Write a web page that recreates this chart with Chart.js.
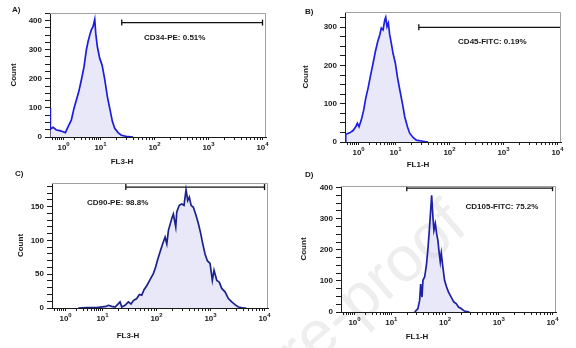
<!DOCTYPE html>
<html>
<head>
<meta charset="utf-8">
<script src="https://cdn.jsdelivr.net/npm/chart.js@4.4.1/dist/chart.umd.min.js"></script>
<style>
  body { margin: 0; background: #fff; }
  #wrap { position: relative; width: 576px; height: 348px; overflow: hidden; font-family: "Liberation Sans", Arial, sans-serif; }
  canvas { position: absolute; }
  .tag { position: absolute; font-weight: bold; font-size: 8px; line-height: 10px; color: #1a1a1a; }
  #mark { position: absolute; left: 102px; top: 495px; font-size: 64px; line-height: 66px; color: #eeeeee;
          white-space: nowrap; transform-origin: 0 100%; transform: rotate(-40.7deg); }
</style>
</head>
<body>
<div id="wrap">
  <div id="mark">Journal Pre-proof</div>
  <canvas id="cA" width="288" height="174" style="left:0;top:0"></canvas>
  <canvas id="cB" width="288" height="174" style="left:288px;top:0"></canvas>
  <canvas id="cC" width="288" height="174" style="left:0;top:174px"></canvas>
  <canvas id="cD" width="288" height="174" style="left:288px;top:174px"></canvas>
  <div class="tag" style="left:12px;top:5px">A)</div>
  <div class="tag" style="left:305px;top:7px">B)</div>
  <div class="tag" style="left:15px;top:169px">C)</div>
  <div class="tag" style="left:305px;top:170px">D)</div>
</div>
<script>
// shared fluorescence axis (log display, first decade compressed like the cytometer software)
const X_MIN = 0.43;
const X_MAX = 11600;
const decades = [0, 1, 2, 3, 4];

// A) CD34-PE, FL3-H
const cd34X = [0.43, 0.44, 0.52, 0.64, 0.79, 0.97, 1.12, 1.32, 1.62, 1.92, 2.22, 2.58, 3.03, 3.58, 4.13, 4.60,
  5.11, 5.64, 6.27, 6.97, 7.42, 8.20, 9.52, 10.7, 12.0, 13.4, 15.0, 16.6, 18.3, 21.1, 24.3, 32.3, 40];
const cd34Count = [100, 27, 33, 24, 22, 18, 15, 35, 58, 99, 127, 156, 196, 242, 299, 328,
  350, 368, 379, 404, 356, 310, 270, 247, 196, 138, 93, 53, 30, 15, 6, 1, 0];

// B) CD45-FITC, FL1-H
const cd45X = [0.44, 0.45, 0.47, 0.58, 0.71, 0.84, 0.93, 1.03, 1.19, 1.38, 1.56, 1.81, 2.08, 2.47, 2.84, 3.30,
  3.74, 4.13, 4.59, 5.11, 5.43, 5.89, 6.38, 6.97, 7.69, 8.55, 9.88, 10.8, 12.0, 13.4, 14.8, 16.6, 18.3, 21.1,
  24.3, 32.3, 40];
const cd45Count = [0, 20, 21, 24, 30, 40, 49, 40, 58, 84, 114, 141, 171, 206, 236, 263,
  280, 298, 293, 319, 326, 302, 311, 280, 258, 232, 206, 171, 136, 101, 66, 40, 23, 12,
  5, 2, 0];

// C) CD90-PE, FL3-H
const cd90X = [2.2, 3.74, 6.97, 11.6, 12.8, 14.8, 17.1, 21.1, 22.7, 26.1, 30.1, 33.7, 37.2, 43.0, 48.1, 53.2,
  58.7, 65.9, 75.9, 87.3, 96.6, 103.5, 116, 130, 144, 155, 166, 191, 205, 227, 237, 264, 293, 323, 352, 378,
  405, 436, 481, 540, 595, 659, 718, 791, 873, 980, 1081, 1161, 1303, 1456, 1613, 1857, 2140, 2472, 2846,
  3277, 4054, 4600];
const cd90Count = [0, 0.5, 0.5, 2.5, 4, 2.5, 1.5, 9, 1.5, 4, 9, 6, 11, 14, 20, 19,
  27, 33, 42, 51, 61, 70, 83, 95, 105, 95, 115, 132, 139, 120, 142, 152, 154, 152, 175, 159,
  164, 152, 149, 137, 125, 110, 95, 80, 70, 66, 41, 56, 41, 38, 29, 24, 14, 9, 5,
  1.5, 0, 0];

// D) CD105-FITC, FL1-H
const cd105X = [27.2, 31.3, 33.7, 35.2, 37.2, 38.8, 41.8, 44.9, 48.1, 51, 54, 56.3, 59.5, 62.1, 65.9, 69.7,
  73.6, 76.8, 81.5, 85.1, 91, 97.9, 107, 116, 130, 146, 161, 178, 199, 230, 284];
const cd105Count = [0, 11, 38, 90, 48, 102, 113, 150, 204, 263, 327, 375, 305, 263, 284, 252,
  230, 198, 161, 188, 145, 102, 80, 64, 48, 32, 27, 16, 11, 3, 0];

// positive gates and their labels
const gateStart = [24.7, 27, 27, 19.4];
const gateEnd = [10000, X_MAX, 10000, 10000];
const gateLevel = [393, 300, 179, 398];
const gateNotes = ['CD34-PE: 0.51%', 'CD45-FITC: 0.19%', 'CD90-PE: 98.8%', 'CD105-FITC: 75.2%'];
const noteX = [64, 144, 3.8, 240];
const noteY = [340, 263, 155, 338];

// y axes
const yMaxes = [426, 340, 185, 405];
const yMajors = [100, 100, 50, 100];
const yMinors = [25, 25, 10, 25];
const xTitles = ['FL3-H', 'FL1-H', 'FL3-H', 'FL1-H'];

function biexU(v) {
    const L = Math.log10(v);
    return L >= 1 ? L : 1 - (1 - L) * 0.685;
}
function biexInv(u) {
    const L = u >= 1 ? u : 1 - (1 - u) / 0.685;
    return Math.pow(10, L);
}

class BiexScale extends Chart.LogarithmicScale {
    buildTicks() {
        const ticks = [];
        for (let e = -1; e <= 4; e++) {
            for (let m = 1; m <= 9; m++) {
                const v = m * Math.pow(10, e);
                if (v >= this.min && v <= this.max) ticks.push({ value: v });
            }
        }
        return ticks;
    }
    getPixelForValue(value) {
        if (value === undefined || value === null || isNaN(value)) return NaN;
        const u0 = biexU(this.min), u1 = biexU(this.max);
        return this.getPixelForDecimal((biexU(Math.max(value, this.min)) - u0) / (u1 - u0));
    }
    getValueForPixel(pixel) {
        const u0 = biexU(this.min), u1 = biexU(this.max);
        return biexInv(u0 + this.getDecimalForPixel(pixel) * (u1 - u0));
    }
}
BiexScale.id = 'biex';
BiexScale.defaults = {};
Chart.register(BiexScale);

const FONT = '"Liberation Sans", Arial, sans-serif';
const INK = '#1a1a1a';

// frame, decade labels, x title and gate note
const flowText = {
    id: 'flowText',
    afterDraw(chart, args, opts) {
        const { ctx, chartArea: a } = chart;
        const x = chart.scales.x, y = chart.scales.y;
        ctx.save();
        ctx.strokeStyle = '#a0a0a0';
        ctx.lineWidth = 1;
        ctx.beginPath();
        ctx.moveTo(a.left, a.top + 0.5);
        ctx.lineTo(a.right - 0.5, a.top + 0.5);
        ctx.lineTo(a.right - 0.5, a.bottom);
        ctx.stroke();

        ctx.fillStyle = INK;
        ctx.textAlign = 'left';
        ctx.textBaseline = 'alphabetic';
        decades.forEach(function (d) {
            const px = x.getPixelForValue(Math.pow(10, d));
            ctx.font = 'bold 8px ' + FONT;
            const w1 = ctx.measureText('10').width;
            ctx.font = 'bold 6px ' + FONT;
            const w2 = ctx.measureText(String(d)).width;
            const x0 = px - (w1 + w2) / 2;
            ctx.font = 'bold 8px ' + FONT;
            ctx.fillText('10', x0, a.bottom + 13);
            ctx.font = 'bold 6px ' + FONT;
            ctx.fillText(String(d), x0 + w1, a.bottom + 9);
        });

        ctx.font = 'bold 8px ' + FONT;
        ctx.textAlign = 'center';
        ctx.textBaseline = 'middle';
        ctx.fillText(opts.title, opts.titleX, opts.titleY);

        ctx.textAlign = 'left';
        ctx.fillText(opts.note, x.getPixelForValue(opts.noteAt[0]), y.getPixelForValue(opts.noteAt[1]));
        ctx.restore();
    }
};

const panels = [
    { id: 'cA', xs: cd34X, ys: cd34Count, line: '#1c1cdc', left: 50, right: 266, top: 13, bottom: 137, countX: 14, titleX: 122, titleY: 162 },
    { id: 'cB', xs: cd45X, ys: cd45Count, line: '#1f1fe0', left: 57, right: 273, top: 12, bottom: 142, countX: 18, titleX: 130, titleY: 165 },
    { id: 'cC', xs: cd90X, ys: cd90Count, line: '#1b2288', left: 52, right: 268, top: 9, bottom: 134, countX: 21, titleX: 128, titleY: 162 },
    { id: 'cD', xs: cd105X, ys: cd105Count, line: '#1f1fa8', left: 53, right: 268, top: 12, bottom: 138, countX: 16, titleX: 129, titleY: 163 }
];

panels.forEach(function (p, i) {
    const yTicks = [];
    for (let v = 0; v <= yMaxes[i]; v += yMinors[i]) yTicks.push({ value: v });

    new Chart(document.getElementById(p.id), {
        type: 'line',
        data: {
            datasets: [{
                data: p.xs.map((x, k) => ({ x: x, y: p.ys[k] })),
                borderColor: p.line,
                borderWidth: 1.7,
                backgroundColor: 'rgba(200, 200, 238, 0.42)',
                fill: 'origin',
                pointRadius: 0,
                tension: 0
            }, {
                data: [{ x: gateStart[i], y: gateLevel[i] }, { x: gateEnd[i], y: gateLevel[i] }],
                borderColor: '#111',
                borderWidth: 1.2,
                pointStyle: 'line',
                rotation: 90,
                pointRadius: 3,
                pointBorderColor: '#111',
                pointBorderWidth: 1.3,
                fill: false
            }]
        },
        options: {
            responsive: false,
            animation: false,
            devicePixelRatio: 1,
            layout: { padding: { left: 0, top: p.top, right: 288 - p.right, bottom: 0 } },
            plugins: {
                legend: { display: false },
                tooltip: { enabled: false },
                flowText: { title: xTitles[i], titleX: p.titleX, titleY: p.titleY, note: gateNotes[i], noteAt: [noteX[i], noteY[i]] }
            },
            scales: {
                x: {
                    type: 'biex',
                    min: X_MIN,
                    max: X_MAX,
                    ticks: { display: false, autoSkip: false },
                    grid: { drawOnChartArea: false, tickLength: 3, color: INK },
                    border: { color: INK, width: 1 },
                    afterFit: s => { s.height = 174 - p.bottom; }
                },
                y: {
                    min: 0,
                    max: yMaxes[i],
                    afterBuildTicks: s => { s.ticks = yTicks.slice(); },
                    ticks: {
                        autoSkip: false,
                        padding: 3,
                        color: INK,
                        font: { family: FONT, size: 8, weight: 'bold' },
                        callback: v => (v % yMajors[i] === 0 ? v : '')
                    },
                    grid: { drawOnChartArea: false, tickLength: 5, color: INK },
                    border: { color: INK, width: 1 },
                    title: { display: true, text: 'Count', color: INK, font: { family: FONT, size: 8, weight: 'bold' }, padding: { top: p.countX - 4.8, bottom: 0 } },
                    afterFit: s => { s.width = p.left; }
                }
            }
        },
        plugins: [flowText]
    });
});
</script>
</body>
</html>
